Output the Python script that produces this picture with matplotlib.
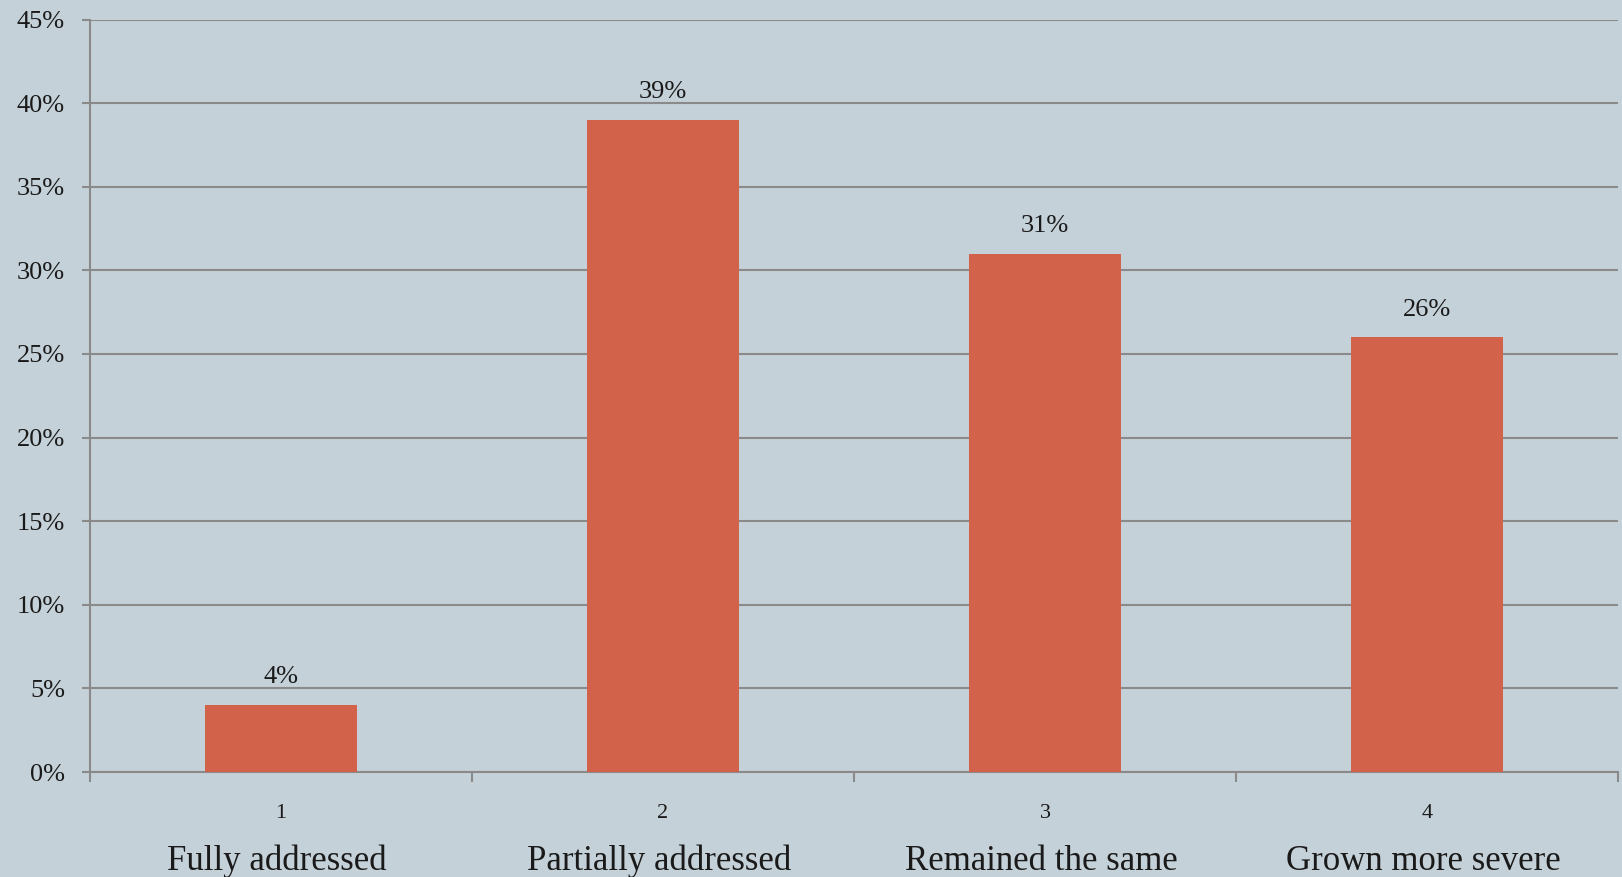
import matplotlib.pyplot as plt
from matplotlib.ticker import FuncFormatter
import matplotlib.transforms as mtransforms

# dados
posicoes = [1, 2, 3, 4]
categorias = ["Fully addressed", "Partially addressed", "Remained the same", "Grown more severe"]
valores = [4, 39, 31, 26]

cor_fundo = "#c5d1d8"
cor_barra = "#d2634a"
cor_grade = "#8a8a8a"

plt.rcParams['font.family'] = ['Liberation Serif', 'DejaVu Serif']

fig = plt.figure(figsize=(16.22, 8.77), dpi=100, facecolor=cor_fundo)
ax = fig.add_axes([0.0555, 0.1197, 0.942, 0.858], facecolor=cor_fundo)

barras = ax.bar(posicoes, valores, width=0.4, color=cor_barra, zorder=3)
for b, v in zip(barras, valores):
    ax.text(b.get_x() + b.get_width() / 2, v + 1.3, f"{v}%", ha="center", va="baseline",
            fontsize=19, color="#1a1a1a")

ax.set_xlim(0.5, 4.5)
ax.set_ylim(0, 45)
ax.set_yticks(range(0, 46, 5))
ax.yaxis.set_major_formatter(FuncFormatter(lambda y, p: f"{int(y)}%"))
ax.yaxis.grid(True, color=cor_grade, linewidth=1.5, zorder=0)
ax.tick_params(axis="y", length=6, width=1.5, color=cor_grade, labelsize=19, pad=12, labelcolor="#1a1a1a")

# ticks nas divisões das categorias e rótulos numéricos no centro
ax.set_xticks([0.5, 1.5, 2.5, 3.5, 4.5])
ax.set_xticklabels([])
ax.tick_params(axis="x", length=7, width=1.5, color=cor_grade)
trans = mtransforms.blended_transform_factory(ax.transData, fig.transFigure)
for p, nome in zip(posicoes, categorias):
    ax.text(p, 1 - 814 / 877, str(p), transform=trans, ha="center", va="center",
            fontsize=16, color="#1a1a1a")
    ax.text(p - 0.01, 1 - 861 / 877, nome, transform=trans, ha="center", va="center",
            fontsize=25, color="#1a1a1a")

for lado in ["top", "right"]:
    ax.spines[lado].set_visible(False)
for lado in ["left", "bottom"]:
    ax.spines[lado].set_color(cor_grade)
    ax.spines[lado].set_linewidth(1.5)

fig.savefig("out.png", dpi=100, facecolor=cor_fundo)
